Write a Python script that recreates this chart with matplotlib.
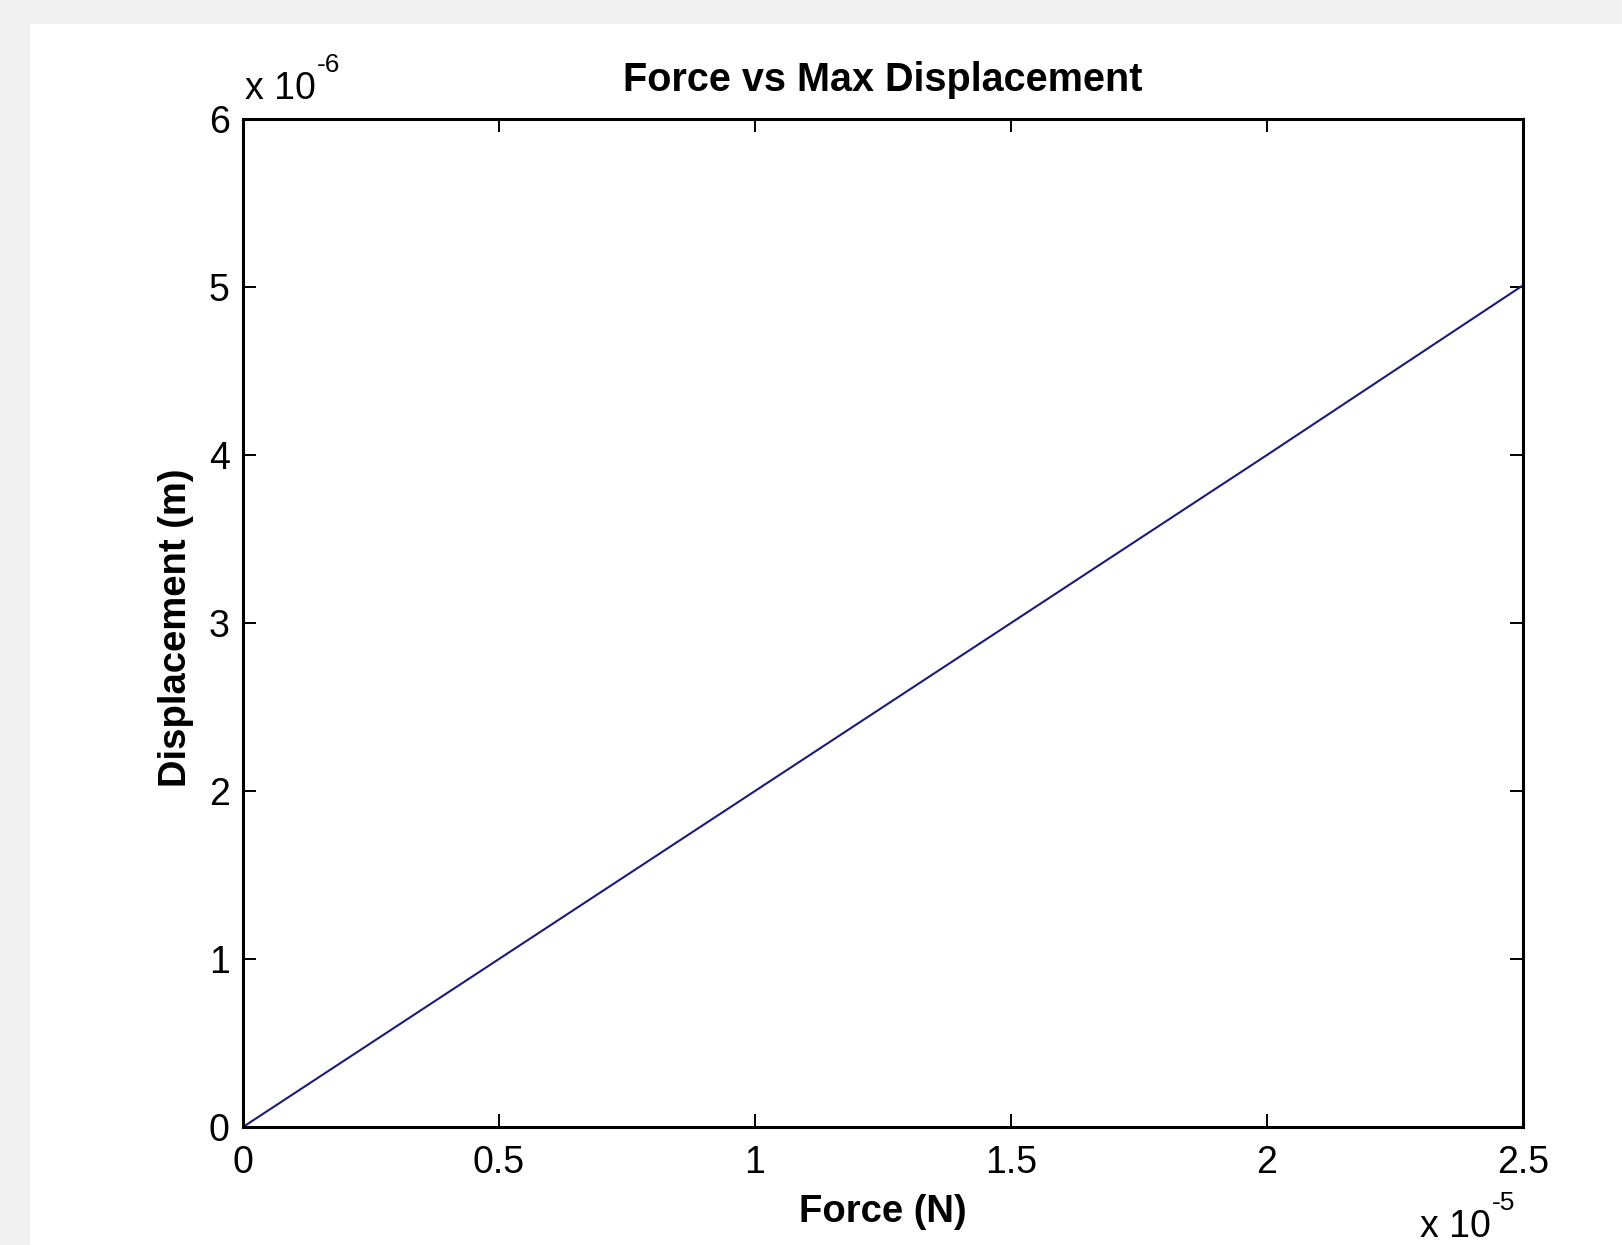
import matplotlib

matplotlib.use("Agg")
import matplotlib.pyplot as plt
from matplotlib.patches import Rectangle
from matplotlib.ticker import FixedLocator, FuncFormatter

# data (SI units)
force = [0.0, 0.5e-5, 1.0e-5, 1.5e-5, 2.0e-5, 2.5e-5]
displacement = [0.0, 1.0e-6, 2.0e-6, 3.0e-6, 4.0e-6, 5.01e-6]

x_ticks = [0.0, 0.5e-5, 1.0e-5, 1.5e-5, 2.0e-5, 2.5e-5]
x_ticklabels = ["0", "0.5", "1", "1.5", "2", "2.5"]
y_ticks = [0, 1e-6, 2e-6, 3e-6, 4e-6, 5e-6, 6e-6]
y_ticklabels = ["0", "1", "2", "3", "4", "5", "6"]

LINE = "#1c1c78"
FONT = ["Liberation Sans", "DejaVu Sans"]

W, H = 1622, 1245
fig = plt.figure(figsize=(W / 100, H / 100), dpi=100, facecolor="#f0f0f0")
# white figure panel (window chrome strip on top/left stays grey)
fig.patches.append(Rectangle((30 / W, 0), 1, 1 - 24 / H, transform=fig.transFigure,
                             facecolor="white", edgecolor="none", zorder=-10))

left, right, top, bottom = 243, 1523, 119, 1127
ax = fig.add_axes([left / W, 1 - bottom / H, (right - left) / W, (bottom - top) / H])
ax.plot(force, displacement, color=LINE, lw=1.5)

ax.set_xlim(0, 2.5e-5)
ax.set_ylim(0, 6e-6)
ax.xaxis.set_major_locator(FixedLocator(x_ticks))
ax.yaxis.set_major_locator(FixedLocator(y_ticks))
ax.xaxis.set_major_formatter(FuncFormatter(lambda v, i: x_ticklabels[i]))
ax.yaxis.set_major_formatter(FuncFormatter(lambda v, i: y_ticklabels[i]))

ax.tick_params(direction="in", length=9.5, width=1.4, top=True, right=True,
               labelsize=27)
ax.tick_params(axis="x", pad=13)
ax.tick_params(axis="y", pad=9.5)
for lab in ax.get_xticklabels() + ax.get_yticklabels():
    lab.set_family(FONT)
for s in ax.spines.values():
    s.set_linewidth(2.2)

ax.set_title("Force vs Max Displacement", fontsize=28.5, fontweight="bold",
             family=FONT, pad=20)
ax.set_xlabel("Force (N)", fontsize=27.5, fontweight="bold", family=FONT)
ax.xaxis.label.set_va("baseline")
ax.xaxis.set_label_coords(0.5, -(1222 - bottom) / (bottom - top))
ax.set_ylabel("Displacement (m)", fontsize=27.5, fontweight="bold", family=FONT)
ax.yaxis.label.set_va("baseline")
ax.yaxis.set_label_coords(-(left - 186) / (right - left), (bottom - 628) / (bottom - top))


def exponent(x, base_y, power):
    # MATLAB-style "x 10^n" label: base text plus a raised smaller exponent
    t = fig.text(x / W, 1 - base_y / H, "x 10", fontsize=27, family=FONT,
                 ha="left", va="baseline")
    fig.canvas.draw()
    bb = t.get_window_extent()
    fig.text((bb.x1 + 1) / W, 1 - (base_y - 27) / H, power, fontsize=19,
             family=FONT, ha="left", va="baseline")


exponent(245, 99, "-6")
exponent(1420, 1237, "-5")

fig.savefig("out.png", dpi=100, facecolor=fig.get_facecolor())
